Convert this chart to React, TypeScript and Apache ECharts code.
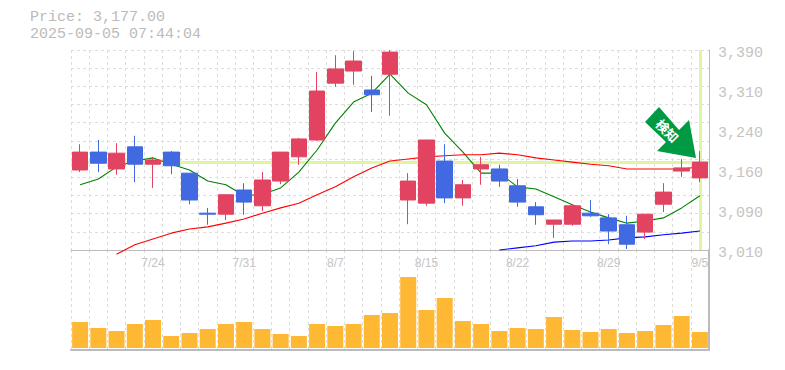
import React, { useEffect, useRef } from "react";
import * as echarts from "echarts";

const dates = ["7/17","7/18","7/22","7/23","7/24","7/25","7/28","7/29","7/30","7/31","8/1","8/4","8/5","8/6","8/7","8/8","8/12","8/13","8/14","8/15","8/18","8/19","8/20","8/21","8/22","8/25","8/26","8/27","8/28","8/29","9/1","9/2","9/3","9/4","9/5"];
const opens = [3162,3196,3164,3206,3173,3196,3156,3080,3078,3124,3094,3141,3187,3219,3327,3350,3314,3344,3105,3099,3179,3109,3164,3164,3132,3092,3059,3059,3080,3071,3058,3044,3097,3160,3147];
const closes = [3196,3175,3194,3173,3181,3170,3105,3078,3115,3101,3143,3196,3221,3312,3354,3369,3305,3386,3141,3219,3109,3134,3172,3141,3101,3077,3067,3094,3075,3046,3021,3078,3120,3166,3177];
const lows = [3158,3158,3153,3139,3128,3154,3097,3058,3067,3077,3084,3135,3172,3217,3320,3324,3272,3265,3059,3094,3099,3094,3134,3130,3092,3058,3033,3056,3073,3021,3012,3031,3082,3149,3139];
const highs = [3211,3219,3213,3227,3187,3198,3156,3090,3115,3137,3158,3196,3223,3348,3380,3388,3341,3390,3156,3219,3211,3143,3187,3172,3145,3101,3067,3097,3105,3078,3075,3078,3137,3183,3198];
const maShort = [3134,3145,3168,3179,3185,3173,3162,3141,3134,3113,3116,3128,3158,3200,3251,3291,3308,3344,3308,3286,3232,3196,3156,3156,3130,3126,3111,3096,3082,3071,3061,3065,3071,3090,3113];
const maMid = [null,null,3002,3020,3031,3042,3050,3054,3061,3069,3080,3090,3099,3115,3130,3149,3166,3179,3183,3187,3189,3191,3191,3194,3191,3185,3181,3177,3173,3170,3164,3164,3164,3164,3168];
const maLong = [null,null,null,null,null,null,null,null,null,null,null,null,null,null,null,null,null,null,null,null,null,null,null,3010,3014,3018,3025,3027,3027,3029,3033,3035,3039,3042,3046];
const volumes = [26,20,17,24,28,12,15,19,24,26,19,14,12,24,22,24,33,35,71,38,50,27,24,17,20,19,31,18,16,19,15,17,23,32,16];
const priceTicks = [3010,3086,3162,3238,3314,3390];
const priceGridLines = [3010,3044.5,3079.1,3113.6,3148.2,3182.7,3217.3,3251.8,3286.4,3320.9,3355.5,3390];
const lastPrice = 3177;
const lastDate = "9/5";
const titleLines = ["Price: 3,177.00", "2025-09-05 07:44:04"];
const arrowText = "検知";

const GRID = "#dddddd";
const AXIS = "#bbbbbb";
const LABEL = "#c4c4c4";
const MONO = "'Liberation Mono', monospace";

export default function App() {
  const ref = useRef<HTMLDivElement>(null);
  useEffect(() => {
    const chart = echarts.init(ref.current!, undefined, { renderer: "svg" });
    const dashed = { show: true, lineStyle: { color: GRID, type: [3, 3] as any, width: 1 } };
    chart.setOption({
      animation: false,
      backgroundColor: "#ffffff",
      grid: [
        { left: 71, width: 638, top: 50, height: 200 },
        { left: 71, width: 638, top: 250, height: 100 },
      ],
      xAxis: [
        {
          type: "category", gridIndex: 0, data: dates, boundaryGap: true,
          axisLine: { onZero: false, lineStyle: { color: AXIS, width: 1 } },
          axisTick: { show: false },
          splitLine: { ...dashed, interval: 0 },
          axisLabel: {
            interval: (i: number) => i % 5 === 4, margin: 7, color: LABEL,
            fontFamily: "'Liberation Sans', sans-serif", fontSize: 12,
          },
        },
        {
          type: "category", gridIndex: 1, data: dates, boundaryGap: true,
          axisLine: { onZero: false, lineStyle: { color: AXIS, width: 2 } },
          axisTick: { show: false },
          splitLine: { ...dashed, interval: 0 },
          axisLabel: { show: false },
        },
      ],
      yAxis: [
        {
          type: "value", gridIndex: 0, position: "right", min: 3010, max: 3390, scale: true,
          axisLine: { show: true, lineStyle: { color: AXIS, width: 1 } },
          axisTick: { show: false, customValues: priceGridLines },
          splitLine: dashed,
          axisLabel: {
            customValues: priceTicks, margin: 9, color: LABEL, fontFamily: MONO, fontSize: 15,
            verticalAlign: "top", lineHeight: 6,
            formatter: (v: number) => (Math.round(v / 10) * 10).toLocaleString("en-US"),
          },
        },
        {
          type: "value", gridIndex: 1, position: "right", min: -2, max: 98,
          axisLine: { show: true, lineStyle: { color: AXIS, width: 2 } },
          axisTick: { show: false }, splitLine: { show: false }, axisLabel: { show: false },
        },
      ],
      series: [
        {
          type: "line", xAxisIndex: 0, yAxisIndex: 0, data: [], z: 1, silent: true,
          markLine: {
            silent: true, symbol: "none", label: { show: false }, animation: false, z: 1,
            lineStyle: { color: "#e0f5a0", width: 3, type: "solid" },
            data: [{ yAxis: lastPrice }, { xAxis: lastDate }],
          },
        },
        {
          type: "line", xAxisIndex: 0, yAxisIndex: 0, data: maShort, z: 2, symbol: "none", clip: false,
          lineStyle: { color: "#008000", width: 1.1 },
        },
        {
          type: "line", xAxisIndex: 0, yAxisIndex: 0, data: maMid, z: 2, symbol: "none", clip: false,
          lineStyle: { color: "#ff0000", width: 1.1 },
        },
        {
          type: "line", xAxisIndex: 0, yAxisIndex: 0, data: maLong, z: 2, symbol: "none", clip: false,
          lineStyle: { color: "#0000ff", width: 1.1 },
        },
        {
          type: "candlestick", xAxisIndex: 0, yAxisIndex: 0, z: 3, barWidth: 16, clip: false,
          data: dates.map((_, i) => [opens[i], closes[i], lows[i], highs[i]]),
          itemStyle: {
            color: "#e24361", color0: "#4169e1",
            borderColor: "#e24361", borderColor0: "#4169e1", borderWidth: 1,
          },
        },
        {
          type: "bar", xAxisIndex: 1, yAxisIndex: 1, data: volumes, barWidth: 16, z: 3,
          itemStyle: { color: "#ffb833" },
        },
      ],
      graphic: [
        { type: "text", x: 30, y: 17, style: { text: titleLines[0], fill: "#bbbbbb", font: `15px ${MONO}`, verticalAlign: "middle" } },
        { type: "text", x: 30, y: 34, style: { text: titleLines[1], fill: "#bbbbbb", font: `15px ${MONO}`, verticalAlign: "middle" } },
        {
          type: "polygon", z: 10,
          shape: { points: [[659, 107], [645, 122], [666, 142], [657, 151], [696, 158], [689, 120], [679, 130]] },
          style: { fill: "#009a44" },
        },
        {
          type: "text", z: 11, x: 667.5, y: 130.5, rotation: -Math.PI / 4,
          style: {
            text: arrowText, fill: "#ffffff", align: "center", verticalAlign: "middle",
            font: "bold 13px 'Noto Sans CJK JP'",
          },
        },
      ],
    });
    return () => chart.dispose();
  }, []);
  return <div ref={ref} style={{ position: "fixed", left: 0, top: 0, width: 785, height: 370 }} />;
}
